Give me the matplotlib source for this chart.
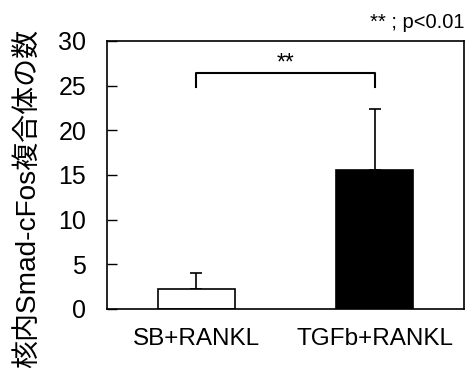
import matplotlib
matplotlib.use("Agg")
import matplotlib.pyplot as plt

categories = ["SB+RANKL", "TGFb+RANKL"]
means = [2.2, 15.6]
errors = [1.8, 6.8]
colors = ["white", "black"]
yticks = [0, 5, 10, 15, 20, 25, 30]
ylabel = "核内Smad-cFos複合体の数"
sig_text = "**"
note_text = "** ; p<0.01"

plt.rcParams['font.family'] = ['Liberation Sans', 'Noto Sans CJK JP', 'DejaVu Sans']

fig = plt.figure(figsize=(4.76, 3.75), dpi=100)
ax = fig.add_axes([107/476, 1 - 309/375, (464-107)/476, (309-41)/375])

x = list(range(len(categories)))
ax.bar(x, means, width=0.43, color=colors, edgecolor="black", linewidth=1.2, zorder=2)
ax.errorbar(x, means, yerr=[[0]*len(means), errors], fmt="none", ecolor="black",
            elinewidth=1.2, capsize=4, capthick=1.2, zorder=1)

ax.set_xlim(-0.5, 1.5)
ax.set_ylim(0, 30)
ax.set_yticks(yticks)
ax.set_xticks(x)
ax.set_xticklabels(categories, fontsize=17.5)
ax.tick_params(axis='y', direction='in', length=7, width=1, labelsize=18, pad=15)
ax.tick_params(axis='x', length=0, pad=14)
for s in ax.spines.values():
    s.set_linewidth(1.2)

# significance bracket
ax.plot([0, 0, 1, 1], [24.8, 26.4, 26.4, 24.8], color="black", lw=1.5, clip_on=False)
ax.text(0.5, 26.3, sig_text, ha="center", va="bottom", fontsize=16.5)

fig.text(29/476, 1 - 198/375, ylabel, rotation=90, ha="center", va="center", fontsize=20.2)
fig.text(464/476, 1 - 23/375, note_text, ha="right", va="center", fontsize=14.5)

fig.savefig("out.png", dpi=100)
